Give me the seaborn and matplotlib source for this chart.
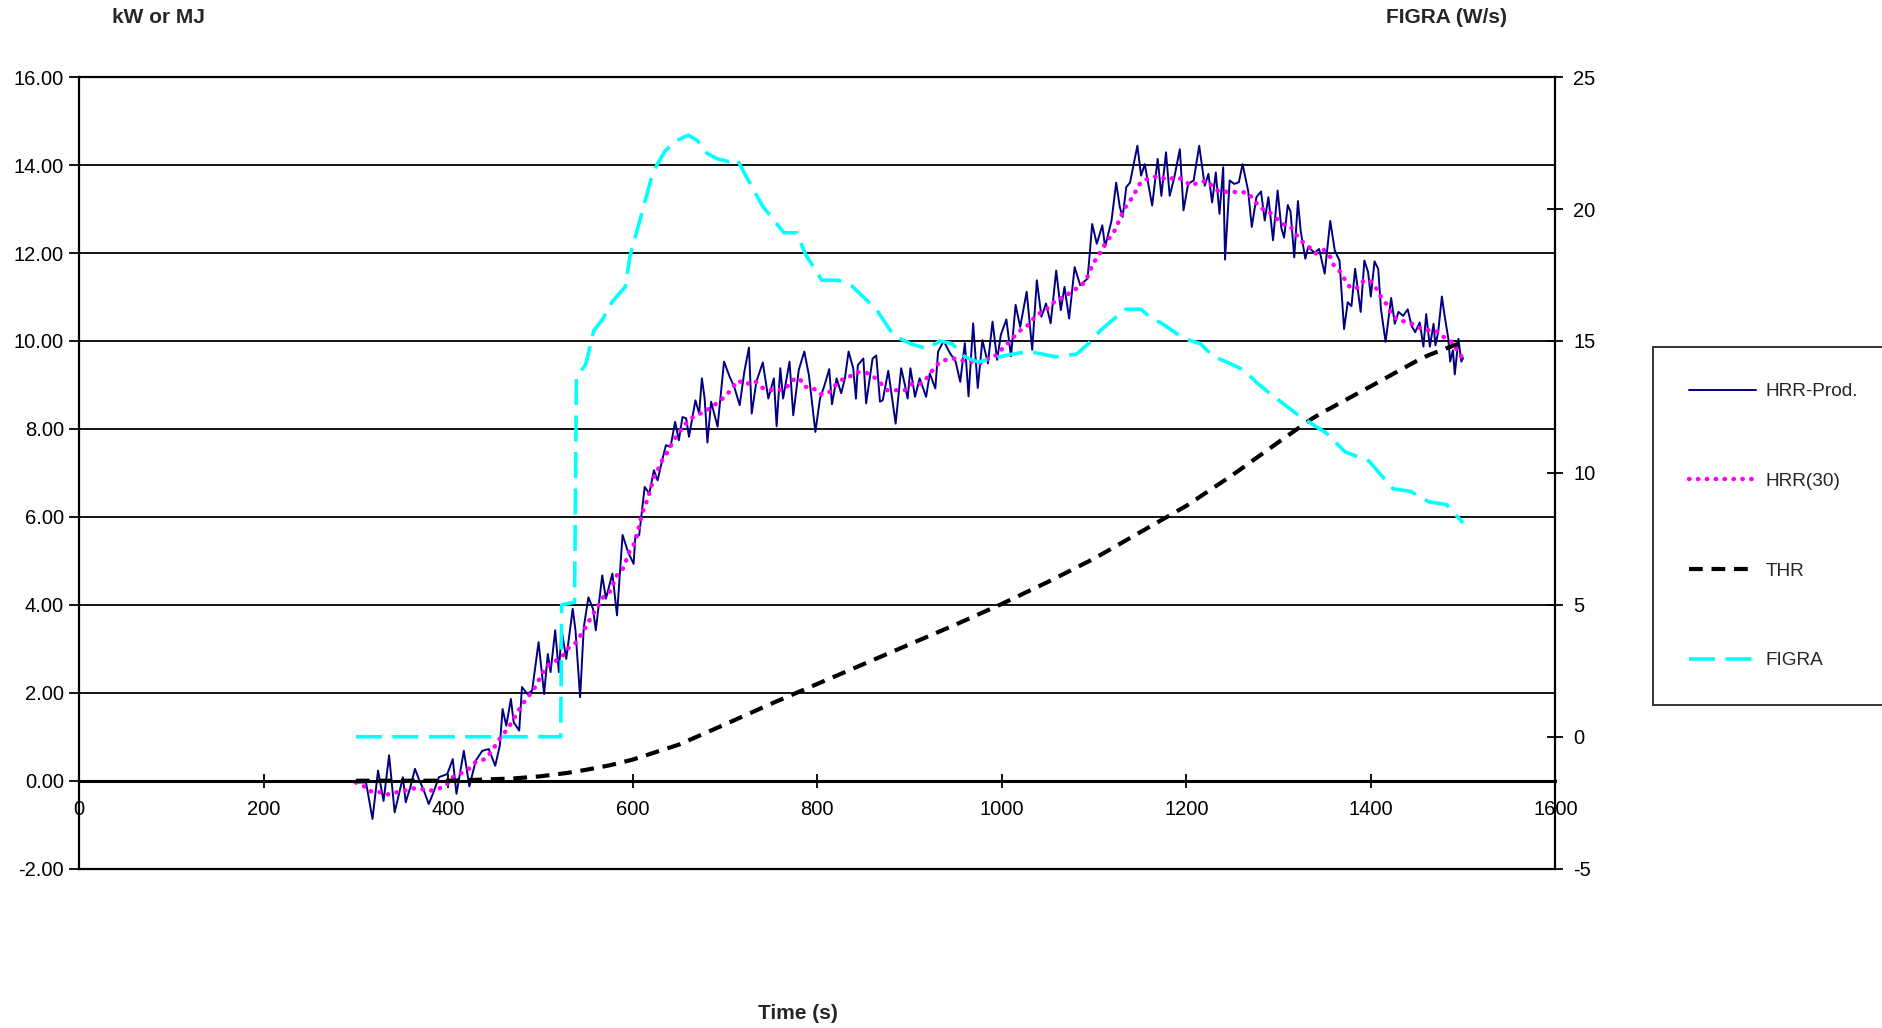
import seaborn as sns
import matplotlib.pyplot as plt
from matplotlib.ticker import FormatStrFormatter

# HRR-Prod. (kW)
hrr_t = [300, 311, 318, 324, 330, 336, 342, 351, 354, 359, 364, 369, 373, 379, 384, 390, 399, 405, 409, 417,
         423, 430, 437, 444, 451, 456, 459, 463, 468, 471, 477, 480, 486, 491, 498, 504, 508, 511, 516, 520,
         523, 528, 535, 538, 543, 547, 552, 557, 560, 567, 571, 578, 583, 589, 595, 601, 603, 607, 613, 618,
         623, 627, 632, 636, 641, 646, 650, 654, 658, 661, 668, 672, 675, 678, 681, 685, 692, 699, 705, 710,
         716, 721, 726, 729, 734, 741, 747, 753, 756, 760, 763, 770, 774, 780, 786, 791, 798, 803, 808, 813,
         816, 821, 826, 830, 834, 839, 842, 844, 850, 853, 860, 864, 868, 871, 877, 885, 891, 895, 898, 901,
         906, 911, 918, 922, 928, 931, 937, 944, 950, 955, 960, 964, 969, 974, 979, 985, 990, 995, 999, 1005,
         1010, 1015, 1020, 1027, 1033, 1038, 1043, 1048, 1053, 1059, 1064, 1068, 1073, 1079, 1085, 1093, 1095,
         1098, 1103, 1109, 1112, 1119, 1124, 1128, 1131, 1135, 1139, 1147, 1151, 1155, 1163, 1169, 1173, 1178,
         1182, 1187, 1193, 1197, 1202, 1208, 1214, 1220, 1224, 1228, 1232, 1236, 1240, 1242, 1247, 1252, 1257,
         1261, 1267, 1271, 1276, 1281, 1285, 1289, 1294, 1299, 1303, 1306, 1310, 1313, 1317, 1321, 1324, 1329,
         1332, 1339, 1344, 1350, 1356, 1361, 1366, 1371, 1375, 1379, 1383, 1389, 1393, 1397, 1400, 1404, 1408,
         1411, 1416, 1422, 1426, 1430, 1435, 1440, 1444, 1448, 1453, 1457, 1460, 1464, 1468, 1470, 1473, 1477,
         1480, 1484, 1486, 1489, 1491, 1495, 1498, 1500]
hrr_v = [-0.04, -0.04, -0.87, 0.23, -0.46, 0.58, -0.72, 0.08, -0.49, -0.15, 0.27, 0.0, -0.19, -0.53, -0.27, 0.08,
         0.15, 0.49, -0.30, 0.68, -0.13, 0.46, 0.68, 0.72, 0.34, 0.80, 1.63, 1.25, 1.86, 1.33, 1.14, 2.13, 1.97,
         2.05, 3.15, 1.97, 2.88, 2.47, 3.42, 2.47, 3.42, 2.77, 3.91, 3.42, 1.90, 3.49, 4.17, 3.91, 3.42, 4.67,
         4.14, 4.71, 3.76, 5.59, 5.20, 4.93, 5.58, 5.58, 6.68, 6.53, 7.06, 6.83, 7.29, 7.63, 7.59, 8.16, 7.74,
         8.27, 8.24, 7.82, 8.65, 8.35, 9.15, 8.69, 7.69, 8.62, 8.05, 9.53, 9.19, 8.96, 8.54, 9.30, 9.85, 8.35,
         9.07, 9.51, 8.69, 9.15, 8.06, 9.38, 8.69, 9.53, 8.31, 9.34, 9.76, 9.22, 7.93, 8.69, 9.00, 9.36, 8.56,
         9.15, 8.81, 9.15, 9.76, 9.38, 8.69, 9.45, 9.60, 8.58, 9.60, 9.67, 8.62, 8.65, 9.32, 8.12, 9.38, 9.00,
         8.69, 9.38, 8.73, 9.15, 8.73, 9.26, 8.92, 9.76, 10.00, 9.72, 9.53, 9.07, 9.95, 8.74, 10.40, 8.93, 10.02,
         9.49, 10.44, 9.57, 10.14, 10.49, 9.65, 10.82, 10.32, 11.12, 9.80, 11.38, 10.55, 10.85, 10.40, 11.60,
         10.70, 11.23, 10.51, 11.68, 11.27, 11.42, 11.90, 12.66, 12.21, 12.63, 12.14, 12.74, 13.60, 13.04, 12.82,
         13.50, 13.60, 14.44, 13.76, 14.02, 13.08, 14.14, 13.30, 14.29, 13.30, 13.72, 14.36, 12.97, 13.57, 13.65,
         14.44, 13.53, 13.80, 13.15, 13.83, 12.89, 13.95, 11.85, 13.65, 13.57, 13.61, 14.02, 13.42, 12.59, 13.27,
         13.40, 12.74, 13.27, 12.29, 13.42, 12.57, 12.35, 13.09, 12.94, 11.90, 13.18, 12.50, 11.87, 12.13, 12.01,
         12.09, 11.53, 12.73, 12.05, 11.83, 10.27, 10.88, 10.79, 11.64, 10.66, 11.83, 11.57, 11.01, 11.81, 11.64,
         10.72, 9.98, 10.98, 10.39, 10.66, 10.57, 10.72, 10.35, 10.20, 10.42, 9.87, 10.61, 9.87, 10.39, 9.90,
         10.20, 11.01, 10.57, 10.05, 9.53, 9.79, 9.24, 10.05, 9.53, 9.61]

# HRR(30) (kW)
hrr30_t = [300, 309, 314, 323, 333, 342, 351, 360, 371, 380, 391, 398, 405, 414, 423, 430, 440, 447, 452, 458,
           465, 470, 475, 481, 487, 492, 498, 503, 509, 517, 523, 530, 537, 548, 554, 559, 568, 575, 583, 590,
           597, 603, 610, 614, 619, 623, 628, 632, 638, 643, 648, 654, 661, 669, 678, 687, 694, 702, 708, 714,
           723, 732, 740, 748, 757, 766, 773, 781, 786, 795, 803, 812, 819, 826, 835, 844, 853, 861, 869, 876,
           885, 895, 903, 913, 920, 926, 933, 941, 949, 958, 965, 972, 979, 987, 995, 1002, 1009, 1016, 1023,
           1031, 1036, 1044, 1052, 1059, 1069, 1076, 1084, 1091, 1099, 1105, 1110, 1116, 1123, 1130, 1135, 1142,
           1147, 1151, 1161, 1170, 1179, 1188, 1196, 1205, 1215, 1223, 1229, 1237, 1247, 1256, 1266, 1274, 1280,
           1288, 1296, 1304, 1313, 1319, 1325, 1333, 1340, 1349, 1356, 1360, 1367, 1372, 1378, 1386, 1393, 1400,
           1406, 1411, 1418, 1422, 1429, 1438, 1447, 1456, 1464, 1473, 1480, 1489, 1494, 1500]
hrr30_v = [-0.04, -0.13, -0.24, -0.24, -0.32, -0.27, -0.24, -0.17, -0.19, -0.23, -0.17, -0.10, 0.08, 0.17, 0.28,
           0.43, 0.49, 0.66, 0.83, 1.02, 1.19, 1.37, 1.56, 1.75, 1.92, 2.05, 2.28, 2.47, 2.64, 2.73, 2.81, 3.01,
           3.10, 3.45, 3.68, 3.86, 4.17, 4.29, 4.67, 4.84, 5.24, 5.43, 6.07, 6.28, 6.60, 6.90, 7.10, 7.29, 7.48,
           7.68, 7.86, 8.02, 8.21, 8.31, 8.39, 8.52, 8.63, 8.77, 8.94, 9.10, 9.01, 9.10, 8.94, 8.88, 8.88, 8.92,
           9.11, 9.15, 8.96, 8.94, 8.79, 8.81, 8.98, 9.11, 9.19, 9.29, 9.28, 9.19, 9.03, 8.88, 8.88, 8.88, 9.03,
           9.03, 9.19, 9.36, 9.53, 9.58, 9.60, 9.55, 9.53, 9.52, 9.49, 9.63, 9.68, 9.86, 10.00, 10.16, 10.29,
           10.39, 10.57, 10.66, 10.78, 10.94, 11.00, 11.15, 11.21, 11.37, 11.76, 11.95, 12.14, 12.32, 12.53,
           12.88, 13.08, 13.27, 13.48, 13.62, 13.71, 13.75, 13.66, 13.72, 13.68, 13.53, 13.62, 13.64, 13.49,
           13.38, 13.40, 13.38, 13.38, 13.19, 13.02, 12.97, 12.82, 12.66, 12.60, 12.42, 12.27, 12.14, 11.99,
           12.07, 11.91, 11.71, 11.57, 11.39, 11.20, 11.21, 11.39, 11.35, 11.19, 11.00, 10.81, 10.63, 10.47,
           10.44, 10.37, 10.26, 10.24, 10.21, 10.07, 9.96, 9.77, 9.59]

# THR (MJ)
thr_t = [300, 400, 430, 470, 500, 530, 550, 575, 600, 625, 650, 675, 700, 750, 800, 850, 900, 950, 1000,
         1050, 1100, 1150, 1200, 1250, 1300, 1336, 1350, 1400, 1450, 1463, 1500]
thr_v = [0.0, 0.0, 0.02, 0.05, 0.10, 0.18, 0.25, 0.35, 0.48, 0.65, 0.82, 1.05, 1.28, 1.75, 2.20, 2.65, 3.10,
         3.55, 4.02, 4.52, 5.05, 5.65, 6.25, 6.95, 7.70, 8.23, 8.40, 8.97, 9.55, 9.68, 9.98]

# FIGRA (W/s), right axis
figra_t = [300, 522, 523, 537, 539, 549, 558, 567, 578, 592, 597, 608, 622, 635, 648, 660, 670, 681, 692, 704,
           713, 722, 741, 764, 778, 787, 805, 823, 837, 864, 883, 901, 919, 933, 946, 960, 974, 992, 1011, 1030,
           1058, 1081, 1094, 1107, 1117, 1134, 1151, 1164, 1172, 1197, 1215, 1230, 1244, 1262, 1277, 1291, 1306,
           1321, 1352, 1372, 1398, 1424, 1443, 1463, 1482, 1500]
figra_v = [0.0, 0.0, 5.0, 5.1, 13.65, 14.1, 15.4, 15.8, 16.5, 17.05, 18.2, 19.6, 21.4, 22.2, 22.6, 22.8, 22.6,
           22.1, 21.9, 21.8, 21.9, 21.3, 20.1, 19.1, 19.1, 18.3, 17.3, 17.3, 17.1, 16.2, 15.2, 14.9, 14.7, 15.0,
           14.9, 14.4, 14.2, 14.35, 14.5, 14.6, 14.4, 14.5, 14.9, 15.4, 15.7, 16.2, 16.2, 15.8, 15.7, 15.1, 14.9,
           14.4, 14.2, 13.9, 13.4, 13.0, 12.6, 12.2, 11.5, 10.8, 10.45, 9.4, 9.3, 8.9, 8.8, 8.1]

sns.set_style('white')
plt.rcParams['font.family'] = ['Liberation Sans', 'DejaVu Sans']
plt.rcParams['axes.unicode_minus'] = False

fig = plt.figure(figsize=(18.83, 10.28), dpi=100)
ax = fig.add_axes([0.042, 0.155, 0.784, 0.770])
ax2 = ax.twinx()

sns.lineplot(x=hrr_t, y=hrr_v, ax=ax, color='#000080', linewidth=1.4, label='HRR-Prod.',
             estimator=None, sort=False)
sns.lineplot(x=hrr30_t, y=hrr30_v, ax=ax, color='#FF00FF', linewidth=3.2, label='HRR(30)',
             estimator=None, sort=False, linestyle=(0, (0.1, 1.9)), dash_capstyle='round')
sns.lineplot(x=thr_t, y=thr_v, ax=ax, color='black', linewidth=3.0, label='THR',
             estimator=None, sort=False, linestyle=(0, (3.3, 2.1)))
sns.lineplot(x=figra_t, y=figra_v, ax=ax2, color='#00FFFF', linewidth=2.6, label='FIGRA',
             estimator=None, sort=False, linestyle=(0, (7.2, 2.9)))

for a in (ax, ax2):
    if a.get_legend() is not None:
        a.get_legend().remove()

ax.set_xlim(0, 1600)
ax.set_ylim(-2, 16)
ax2.set_ylim(-5, 25)
ax.set_xticks(range(0, 1601, 200))
ax.set_yticks(range(-2, 17, 2))
ax2.set_yticks(range(-5, 26, 5))
ax.yaxis.set_major_formatter(FormatStrFormatter('%.2f'))
ax.set_xlabel('')
ax.set_ylabel('')
ax2.set_ylabel('')

ax.grid(axis='y', color='black', linewidth=1.3)
ax.grid(axis='x', visible=False)
ax2.grid(False)

ax.spines['bottom'].set_position(('data', 0))
ax.spines['bottom'].set_linewidth(2.2)
ax.spines['left'].set_linewidth(1.6)
ax.spines['top'].set_linewidth(1.6)
ax.spines['right'].set_visible(False)
for s in ('left', 'top'):
    ax2.spines[s].set_visible(False)
ax2.spines['right'].set_linewidth(1.6)
ax2.spines['bottom'].set_linewidth(1.6)
for s in ax.spines.values():
    s.set_color('black')
for s in ax2.spines.values():
    s.set_color('black')

ax.tick_params(axis='x', bottom=True, direction='inout', length=10, width=1.3, pad=9,
               labelsize=14.5, colors='black')
ax.tick_params(axis='y', left=True, direction='out', length=7, width=1.3, pad=4,
               labelsize=14.5, colors='black')
ax2.tick_params(axis='y', right=True, direction='inout', length=12, width=1.3, pad=7,
                labelsize=14.5, colors='black')

fig.text(0.084, 0.983, 'kW or MJ', ha='center', va='center', fontsize=15, fontweight='bold')
fig.text(0.768, 0.983, 'FIGRA (W/s)', ha='center', va='center', fontsize=15, fontweight='bold')
fig.text(0.424, 0.014, 'Time (s)', ha='center', va='center', fontsize=15, fontweight='bold')

h1, l1 = ax.get_legend_handles_labels()
h2, l2 = ax2.get_legend_handles_labels()
leg = fig.legend(h1 + h2, l1 + l2, loc='upper left', bbox_to_anchor=(0.878, 0.6625),
                 fontsize=13.7, frameon=True, fancybox=False, borderpad=1.9, labelspacing=3.8,
                 handlelength=3.5, handletextpad=0.5, borderaxespad=0)
leg.get_frame().set_edgecolor('black')
leg.get_frame().set_linewidth(1.4)

fig.savefig('out.png', dpi=100)
